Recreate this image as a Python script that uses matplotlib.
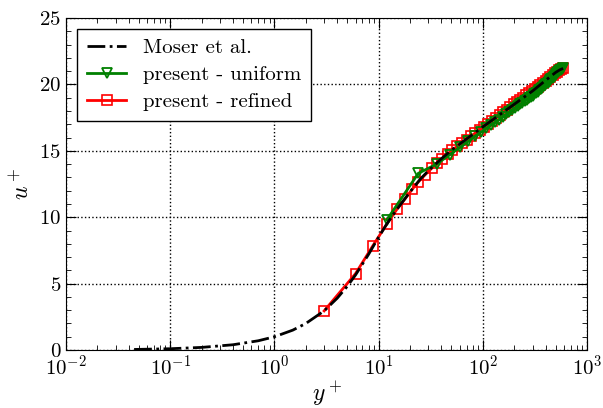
import numpy as np
import matplotlib
matplotlib.use("Agg")
import matplotlib.pyplot as plt
from matplotlib.ticker import MultipleLocator, LogLocator

plt.rcParams['font.family'] = 'cmr10'
plt.rcParams['mathtext.fontset'] = 'cm'
plt.rcParams['axes.formatter.use_mathtext'] = True

# Moser, Kim & Mansour DNS mean velocity (Re_tau = 590)
moser_yp = [0.045, 0.1, 0.2, 0.4, 0.7, 1.0, 1.5, 2.0, 3.0, 4.0, 5.0, 6.0, 8.0,
            10.0, 12.0, 15.0, 20.0, 25.0, 30.0, 40.0, 50.0, 70.0, 100.0,
            150.0, 200.0, 300.0, 400.0, 500.0, 550.0, 590.0]
moser_up = [0.045, 0.1, 0.2, 0.4, 0.7, 1.0, 1.5, 2.0, 2.95, 3.9, 4.8, 5.65, 7.2,
            8.5, 9.5, 10.6, 11.9, 12.85, 13.5, 14.4, 15.05, 15.9, 16.8,
            17.8, 18.5, 19.5, 20.3, 20.9, 21.1, 21.2]

# present LES - uniform grid
uni_yp = [12, 24, 36, 48, 60, 72, 84, 96, 108, 120, 132, 144, 156, 168, 180,
          192, 204, 216, 228, 240, 252, 264, 276, 288, 300, 312, 324, 336,
          348, 360, 372, 384, 396, 408, 420, 432, 444, 456, 468, 480, 492,
          504, 516, 528, 540, 552, 564, 576, 588]
uni_up = [9.8, 13.3, 14.0, 14.7, 15.25, 15.7, 16.1, 16.4, 16.7, 16.95, 17.15,
          17.35, 17.55, 17.75, 17.9, 18.05, 18.2, 18.35, 18.5, 18.6, 18.75,
          18.85, 18.95, 19.05, 19.15, 19.25, 19.35, 19.45, 19.55, 19.65,
          19.75, 19.85, 19.95, 20.05, 20.1, 20.2, 20.3, 20.4, 20.5, 20.55,
          20.65, 20.75, 20.85, 20.9, 21.0, 21.05, 21.1, 21.15, 21.2]

# present LES - refined grid
ref_yp = [3, 6, 8.8, 12, 15, 18, 21, 24, 28, 32.5, 36.5, 41, 46, 51, 57, 63,
          70, 77, 85, 93, 102, 112, 122, 133, 145, 157, 170, 184, 198, 213,
          229, 245, 262, 280, 298, 317, 337, 357, 378, 400, 422, 445, 468,
          492, 516, 540, 565, 590]
ref_up = [2.95, 5.75, 7.85, 9.5, 10.6, 11.4, 12.1, 12.65, 13.2, 13.7, 14.1,
          14.4, 14.75, 15.05, 15.35, 15.6, 15.85, 16.1, 16.35, 16.55, 16.8,
          17.05, 17.25, 17.5, 17.7, 17.9, 18.1, 18.3, 18.5, 18.7, 18.85, 19.0,
          19.2, 19.35, 19.5, 19.65, 19.8, 19.95, 20.1, 20.25, 20.4, 20.55,
          20.7, 20.85, 20.95, 21.05, 21.15, 21.2]

fig = plt.figure(figsize=(6.03, 4.08), dpi=100)
ax = fig.add_axes([0.1095, 0.142, 0.864, 0.814])

h_ref, = ax.semilogx(ref_yp, ref_up, '-', color='red', lw=2, marker='s',
                     ms=6.5, mfc='none', mec='red', mew=1.2,
                     label='present - refined', zorder=3)
h_uni, = ax.semilogx(uni_yp, uni_up, '-', color='green', lw=2, marker='v',
                     ms=7, mfc='none', mec='green', mew=1.3,
                     label='present - uniform', zorder=4)
h_mos, = ax.semilogx(moser_yp, moser_up, '-.', color='black', lw=2,
                     label='Moser et al.', zorder=5)

ax.set_xlim(1e-2, 1e3)
ax.set_ylim(0, 25)
ax.yaxis.set_major_locator(MultipleLocator(5))
ax.yaxis.set_minor_locator(MultipleLocator(1))
ax.xaxis.set_major_locator(LogLocator(base=10, numticks=10))
ax.xaxis.set_minor_locator(LogLocator(base=10, subs=np.arange(2, 10), numticks=20))

ax.grid(True, which='major', color='black', linestyle=':', linewidth=1)
ax.tick_params(which='both', direction='in', top=True, right=True,
               labelsize=15)
ax.tick_params(which='major', length=7)
ax.tick_params(which='minor', length=3.5)

ax.set_xlabel(r'$y^+$', fontsize=17, labelpad=0)
ax.set_ylabel(r'$u^+$', fontsize=17, labelpad=4)

leg = ax.legend(handles=[h_mos, h_uni, h_ref], loc='upper left',
                fontsize=15, fancybox=False, framealpha=1,
                edgecolor='black', handlelength=1.9, handletextpad=0.8,
                borderaxespad=0.55, labelspacing=0.4, borderpad=0.45)
leg.get_frame().set_linewidth(1)

fig.savefig('out.png', dpi=100)
